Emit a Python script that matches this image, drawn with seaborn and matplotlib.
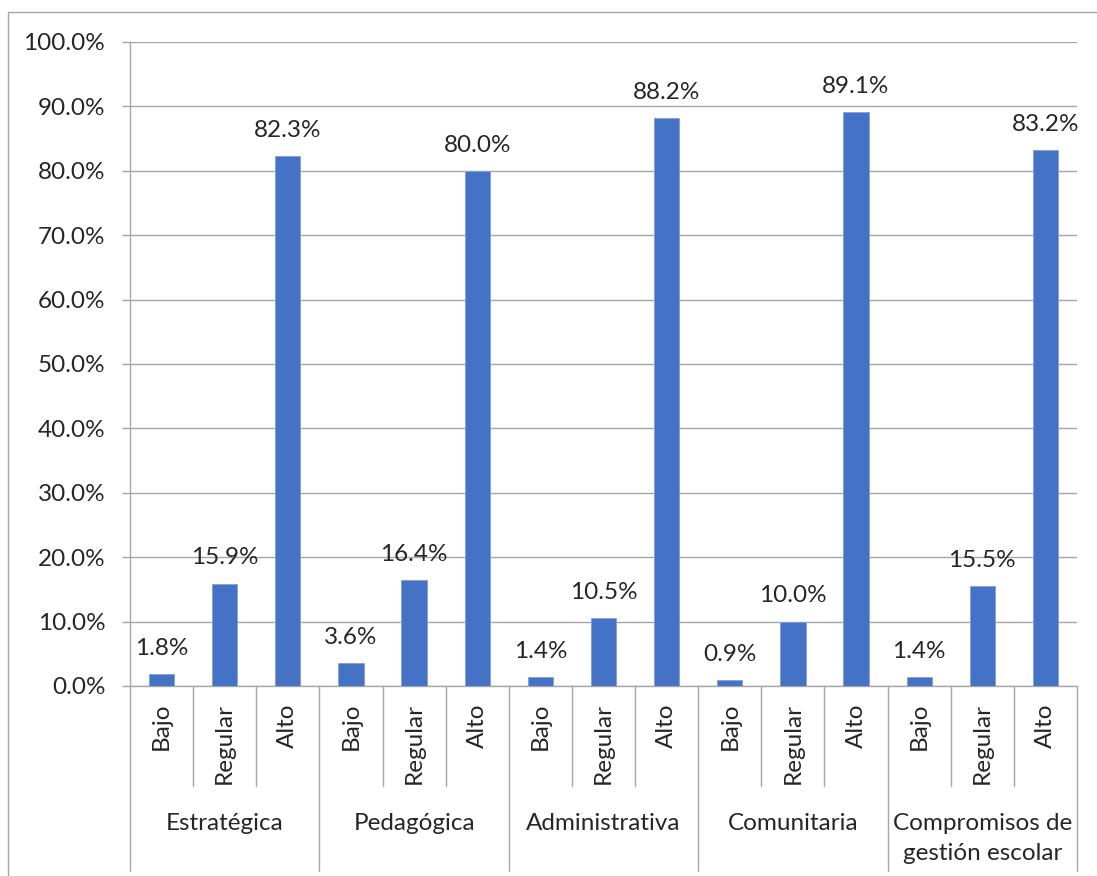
import matplotlib
matplotlib.use("Agg")
import matplotlib.pyplot as plt
import matplotlib.transforms as mtransforms
from matplotlib.lines import Line2D
from matplotlib.ticker import FuncFormatter
import seaborn as sns
import pandas as pd

# ---- data ----
groups = ["Estratégica", "Pedagógica", "Administrativa", "Comunitaria",
          "Compromisos de\ngestión escolar"]
levels = ["Bajo", "Regular", "Alto"]
estrategica = [0.018, 0.159, 0.823]
pedagogica = [0.036, 0.164, 0.800]
administrativa = [0.014, 0.105, 0.882]
comunitaria = [0.009, 0.100, 0.891]
compromisos = [0.014, 0.155, 0.832]
y_ticks = [i / 10 for i in range(11)]

series = [estrategica, pedagogica, administrativa, comunitaria, compromisos]
rows = []
for g, vals in zip(groups, series):
    for lv, v in zip(levels, vals):
        rows.append({"key": f"{g}|{lv}", "group": g, "level": lv, "value": v})
df = pd.DataFrame(rows)

sns.set_style("white")
plt.rcParams["font.family"] = ["Lato", "DejaVu Sans"]
FS = 17.5

W, H = 1097, 876
fig = plt.figure(figsize=(W / 100, H / 100), dpi=100)
ax_l, ax_r, ax_t, ax_b = 130, 1077, 42, 686
ax = fig.add_axes([ax_l / W, 1 - ax_b / H, (ax_r - ax_l) / W, (ax_b - ax_t) / H])

sns.barplot(data=df, x="key", y="value", order=list(df["key"]), color="#4472C4",
            saturation=1, width=0.4, edgecolor="#7fa0dc", linewidth=0.6, ax=ax,
            errorbar=None, zorder=3)

ax.set_ylim(0, 1.0)
ax.set_xlim(-0.5, len(df) - 0.5)
ax.set_yticks(y_ticks)
ax.yaxis.set_major_formatter(FuncFormatter(lambda v, p: f"{v*100:.1f}%"))
ax.grid(axis="y", color="#A6A6A6", linewidth=1.0, zorder=0)
ax.set_axisbelow(True)
ax.tick_params(axis="y", length=5.8, width=1.0, color="#A6A6A6", pad=12,
               labelsize=FS, left=True)
ax.tick_params(axis="x", length=0, labelbottom=False)
ax.set_xlabel("")
ax.set_ylabel("")
for s in ["top", "right"]:
    ax.spines[s].set_visible(False)
for s in ["left", "bottom"]:
    ax.spines[s].set_color("#A6A6A6")
    ax.spines[s].set_linewidth(1.0)

# data labels
for bar, v in zip(ax.patches, df["value"]):
    ax.annotate(f"{v*100:.1f}%", (bar.get_x() + bar.get_width() / 2, bar.get_height()),
                xytext=(0, 11), textcoords="offset points", ha="center",
                va="bottom", fontsize=FS)

# multi-level category axis
trans = mtransforms.blended_transform_factory(ax.transData, ax.transAxes)
axh = ax_b - ax_t
inner_bot = -100 / axh
group_bot = -185 / axh
n = len(df)
for i in range(n + 1):
    xb = i - 0.5
    yb = group_bot if i % 3 == 0 else inner_bot
    ax.add_line(Line2D([xb, xb], [0, yb], transform=trans, color="#A6A6A6",
                       linewidth=1.0, clip_on=False))
for i, lv in enumerate(df["level"]):
    ax.text(i, -17 / axh, lv, transform=trans, rotation=90, ha="center",
            va="top", fontsize=FS)
for j, g in enumerate(groups):
    ax.text(3 * j + 1, -127 / axh, g, transform=trans, ha="center", va="top",
            fontsize=FS, linespacing=1.5, multialignment="center")

# chart area border (left and top visible)
fig.add_artist(Line2D([8 / W, 8 / W], [0, 1 - 12 / H], transform=fig.transFigure,
                      color="#A6A6A6", linewidth=1.0))
fig.add_artist(Line2D([8 / W, 1], [1 - 12 / H, 1 - 12 / H], transform=fig.transFigure,
                      color="#A6A6A6", linewidth=1.0))

fig.savefig("out.png", dpi=100)
